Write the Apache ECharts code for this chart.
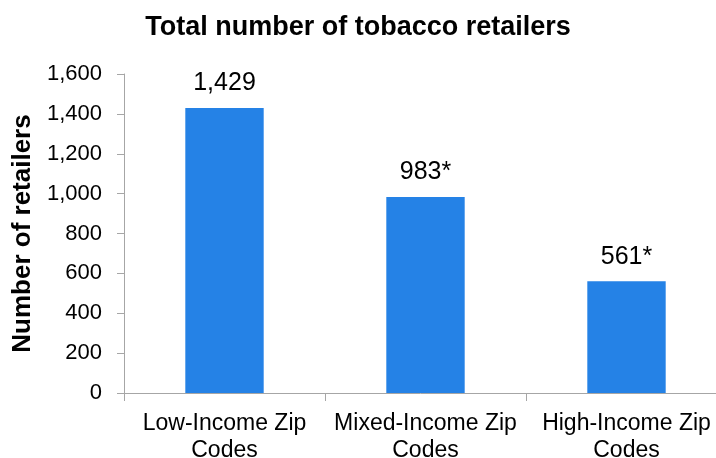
<!DOCTYPE html>
<html>
<head>
<meta charset="utf-8">
<script src="https://cdn.jsdelivr.net/npm/echarts@6/dist/echarts.min.js"></script>
<style>
  html, body { margin: 0; padding: 0; background: #fff; }
  #chart { width: 716px; height: 458px; }
</style>
</head>
<body>
<div id="chart"></div>
<script>
// Retailer counts by zip-code income group
const categories = ['Low-Income Zip\nCodes', 'Mixed-Income Zip\nCodes', 'High-Income Zip\nCodes'];
const retailers = [1429, 983, 561];
const valueMarks = ['', '*', '*']; // asterisk marks a significant difference
const yTicks = { min: 0, max: 1600, interval: 200 };

const FONT = '"Liberation Sans", Arial, sans-serif';
const AXIS_GRAY = '#a6a6a6';

const chart = echarts.init(document.getElementById('chart'), null, { renderer: 'canvas' });

chart.setOption({
  animation: false,
  textStyle: { fontFamily: FONT },
  title: {
    text: 'Total number of tobacco retailers',
    left: 'center',
    top: 9,
    textStyle: { fontFamily: FONT, fontSize: 27, fontWeight: 'bold', color: '#000' }
  },
  grid: {
    left: 124, top: 74, width: 603, bottom: 65,
    containLabel: false,
    outerBoundsMode: 'none'
  },
  xAxis: {
    type: 'category',
    data: categories,
    axisLine: { lineStyle: { color: AXIS_GRAY, width: 1 } },
    axisTick: { show: true, length: 8, alignWithLabel: false, lineStyle: { color: AXIS_GRAY } },
    axisLabel: {
      margin: 17,
      fontSize: 23,
      lineHeight: 27,
      color: '#000',
      fontFamily: FONT,
      interval: 0
    },
    splitLine: { show: false }
  },
  yAxis: {
    type: 'value',
    min: yTicks.min,
    max: yTicks.max,
    interval: yTicks.interval,
    name: 'Number of retailers',
    nameLocation: 'middle',
    nameGap: 86,
    nameTextStyle: { fontFamily: FONT, fontSize: 26, fontWeight: 'bold', color: '#000' },
    axisLine: { show: true, lineStyle: { color: AXIS_GRAY, width: 1 } },
    axisTick: { show: true, length: 7, lineStyle: { color: AXIS_GRAY } },
    axisLabel: {
      margin: 22,
      fontSize: 22,
      color: '#000',
      fontFamily: FONT,
      formatter: v => v.toLocaleString('en-US')
    },
    splitLine: { show: false }
  },
  series: [{
    type: 'bar',
    data: retailers,
    barWidth: '39%',
    itemStyle: { color: '#2582e6' },
    label: {
      show: true,
      position: 'top',
      distance: 12,
      fontSize: 25,
      color: '#000',
      fontFamily: FONT,
      formatter: p => p.value.toLocaleString('en-US') + valueMarks[p.dataIndex]
    }
  }]
});
</script>
</body>
</html>
